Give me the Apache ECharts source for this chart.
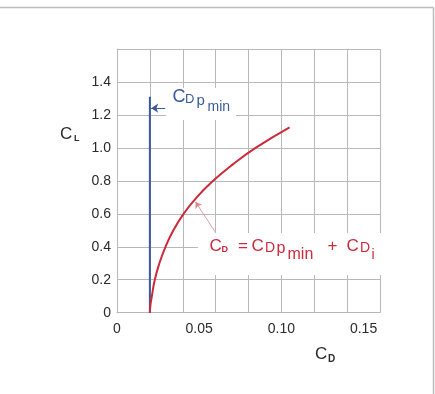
<!DOCTYPE html>
<html>
<head>
<meta charset="utf-8">
<script src="https://cdn.jsdelivr.net/npm/echarts@6/dist/echarts.min.js"></script>
<style>
html,body{margin:0;padding:0;background:#fff;}
#c{width:435px;height:394px;}
</style>
</head>
<body>
<div id="c"></div>
<script>
// ---- data ----
const clValues = [0, 0.05, 0.1, 0.2, 0.3, 0.4, 0.5, 0.6, 0.7, 0.8, 0.9, 1.0, 1.125];
const cdValues = [0.0200, 0.0204, 0.0212, 0.0230, 0.0258, 0.0295, 0.0343, 0.0405, 0.0485, 0.0585, 0.0705, 0.0843, 0.1050];
const cdpMin = 0.02;
const cdpMinLineTop = 1.31;
const xTickValues = [0, 0.05, 0.10, 0.15];
const xTickLabels = ['0', '0.05', '0.10', '0.15'];
const yTickValues = [0, 0.2, 0.4, 0.6, 0.8, 1.0, 1.2, 1.4];
const yTickLabels = ['0', '0.2', '0.4', '0.6', '0.8', '1.0', '1.2', '1.4'];
const blueArrow = [[0.0293, 1.241], [0.0208, 1.241]];
const redLeader = [[0.0596, 0.492], [0.0478, 0.672]];

const FONT = '"Liberation Sans", Arial, Helvetica, sans-serif';
const BLUE = '#3b5a9b';
const RED = '#cc2a3a';
const GRID = '#b8b8b8';
const TXT = '#2a2a2a';

function lookup(vals, labels, v) {
  for (let i = 0; i < vals.length; i++) if (Math.abs(vals[i] - v) < 1e-9) return labels[i];
  return '';
}

// text piece positioned by baseline
function piece(x, baseline, str, size, color, bold) {
  return {
    type: 'text', z: 10, silent: true,
    x: x, y: baseline - 0.3465 * size,
    style: {
      text: str, fill: color, fontSize: size, fontFamily: FONT,
      fontWeight: bold ? 'bold' : 'normal', align: 'left', verticalAlign: 'middle'
    }
  };
}

const chart = echarts.init(document.getElementById('c'), null, {renderer: 'canvas'});
const curveData = clValues.map((cl, i) => [cdValues[i], cl]);

chart.setOption({
  animation: false,
  backgroundColor: '#ffffff',
  grid: {left: 117, top: 49, width: 263, height: 263.7, containLabel: false},
  xAxis: [
    {
      type: 'value', min: 0, max: 0.16, interval: 0.02, position: 'bottom',
      axisLine: {show: true, lineStyle: {color: GRID, width: 1}},
      axisTick: {show: false},
      axisLabel: {show: false},
      splitLine: {show: true, lineStyle: {color: GRID, width: 1}}
    },
    {
      type: 'value', min: 0, max: 0.16, interval: 0.05, position: 'bottom',
      axisLine: {show: false}, axisTick: {show: false},
      splitLine: {show: false},
      axisLabel: {
        show: true, margin: 9, color: TXT, fontSize: 14, fontFamily: FONT,
        formatter: v => lookup(xTickValues, xTickLabels, v)
      }
    }
  ],
  yAxis: {
    type: 'value', min: 0, max: 1.6, interval: 0.2,
    axisLine: {show: true, lineStyle: {color: GRID, width: 1}},
    axisTick: {show: false},
    splitLine: {show: true, lineStyle: {color: GRID, width: 1}},
    axisLabel: {
      show: true, margin: 6, color: TXT, fontSize: 14, fontFamily: FONT,
      formatter: v => lookup(yTickValues, yTickLabels, v)
    }
  },
  series: [
    {
      type: 'line', xAxisIndex: 0, data: curveData, smooth: 0.5,
      showSymbol: false, symbol: 'none', silent: true, z: 5,
      lineStyle: {color: RED, width: 2},
      markLine: {
        silent: true, symbol: ['none', 'arrow'], symbolSize: 6,
        label: {show: false},
        lineStyle: {color: '#d9848a', width: 0.8, type: 'solid'},
        data: [[{coord: redLeader[0]}, {coord: redLeader[1]}]]
      }
    },
    {
      type: 'line', xAxisIndex: 0, data: [[cdpMin, 0], [cdpMin, cdpMinLineTop]],
      showSymbol: false, symbol: 'none', silent: true, z: 4,
      lineStyle: {color: BLUE, width: 2},
      markLine: {
        silent: true, symbol: ['none', 'arrow'], symbolSize: 7,
        label: {show: false},
        lineStyle: {color: BLUE, width: 1, type: 'solid'},
        data: [[{coord: blueArrow[0]}, {coord: blueArrow[1]}]]
      }
    }
  ],
  graphic: [
    // page frame
    {type: 'line', z: 1, silent: true, shape: {x1: 0, y1: 7.5, x2: 433.5, y2: 7.5}, style: {stroke: '#bdbdbd', lineWidth: 1.5}},
    {type: 'line', z: 1, silent: true, shape: {x1: 433.5, y1: 7.5, x2: 433.5, y2: 394}, style: {stroke: '#bdbdbd', lineWidth: 1.5}},
    // label backgrounds
    {type: 'rect', z: 1, silent: true, shape: {x: 166, y: 88, width: 70, height: 32}, style: {fill: '#ffffff'}},
    {type: 'rect', z: 1, silent: true, shape: {x: 198, y: 233, width: 184, height: 42}, style: {fill: '#ffffff'}},
    // axis titles
    piece(60, 140.7, 'C', 17, TXT, false),
    piece(74, 141.8, 'L', 9, TXT, true),
    piece(315, 360.7, 'C', 17, TXT, false),
    piece(328, 362.3, 'D', 10, TXT, true),
    // CDpmin label
    piece(172.5, 103.3, 'C', 18, BLUE, false),
    piece(185, 104, 'D', 13, BLUE, false),
    piece(196.5, 106, 'p', 15, BLUE, false),
    piece(207.5, 111.7, 'min', 14, BLUE, false),
    // CD = CDpmin + CDi label
    piece(209.5, 252.3, 'C', 17, RED, false),
    piece(221.5, 252.8, 'D', 9, RED, true),
    piece(238, 252, '=', 17, RED, false),
    piece(251.5, 252.3, 'C', 17, RED, false),
    piece(265, 253, 'D', 14, RED, false),
    piece(276.5, 254, 'p', 16, RED, false),
    piece(287.5, 260, 'min', 16, RED, false),
    piece(327.5, 252, '+', 17, RED, false),
    piece(346.5, 252.3, 'C', 17, RED, false),
    piece(360, 253, 'D', 14, RED, false),
    piece(371.5, 260, 'i', 14, RED, false)
  ]
});
</script>
</body>
</html>
